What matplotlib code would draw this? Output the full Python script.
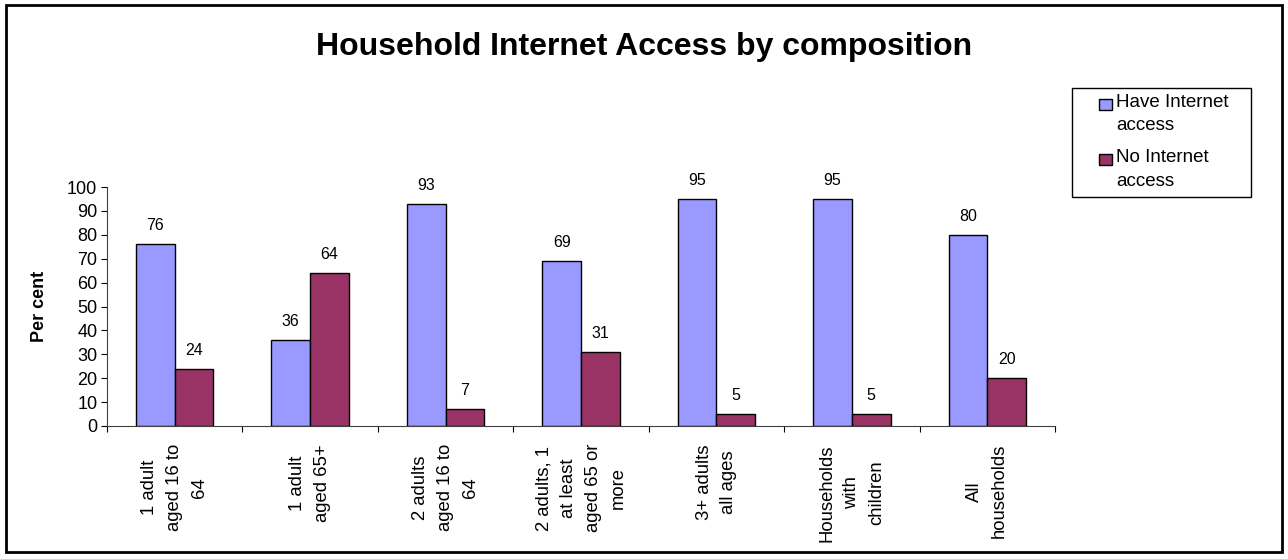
import numpy as np
import matplotlib
matplotlib.use("Agg")
import matplotlib.pyplot as plt
from matplotlib.patches import Rectangle

plt.rcParams['font.family'] = ['Liberation Sans', 'DejaVu Sans']

# Data
categories = ["1 adult\naged 16 to\n64", "1 adult\naged 65+", "2 adults\naged 16 to\n64",
              "2 adults, 1\nat least\naged 65 or\nmore", "3+ adults\nall ages",
              "Households\nwith\nchildren", "All\nhouseholds"]
have_access = [76, 36, 93, 69, 95, 95, 80]
no_access = [24, 64, 7, 31, 5, 5, 20]
series_names = ["Have Internet\naccess", "No Internet\naccess"]
series_colors = ['#9999FF', '#993366']
y_ticks = [0, 10, 20, 30, 40, 50, 60, 70, 80, 90, 100]

W, H = 1288, 559
fig = plt.figure(figsize=(W / 100, H / 100), dpi=100)
ax = fig.add_axes([107/W, 1 - 426/H, (1055 - 107)/W, (426 - 187)/H])

# outer chart border
fig.patches.append(Rectangle((6/W, 1 - 552/H), 1276/W, 547/H,
                             transform=fig.transFigure, fill=False,
                             edgecolor='black', linewidth=2))

x = np.arange(len(categories))
w = 1 / 3.5
b1 = ax.bar(x - w/2, have_access, w, color=series_colors[0], edgecolor='black', linewidth=1)
b2 = ax.bar(x + w/2, no_access, w, color=series_colors[1], edgecolor='black', linewidth=1)

for bars in (b1, b2):
    ax.bar_label(bars, padding=8, fontsize=11.5)

ax.set_xlim(-0.5, len(categories) - 0.5)
ax.set_ylim(0, 100)
ax.set_yticks(y_ticks)
ax.tick_params(axis='y', labelsize=13, length=4, direction='out', pad=3)
ax.set_xticks(np.arange(len(categories) + 1) - 0.5)
ax.set_xticklabels([])
ax.tick_params(axis='x', length=4, direction='out')
ax.set_xticks(x, minor=True)
ax.set_xticklabels(categories, minor=True, rotation=90, fontsize=13.3,
                   ha='center', va='top', multialignment='center', linespacing=1.6)
ax.tick_params(axis='x', which='minor', length=0, pad=13)

for s in ('top', 'right'):
    ax.spines[s].set_visible(False)
ax.spines['left'].set_color('#404040')
ax.spines['bottom'].set_color('#404040')

ax.set_ylabel("Per cent", fontsize=13, fontweight='bold', labelpad=14)

fig.suptitle("Household Internet Access by composition", fontsize=23,
             fontweight='bold', y=1 - 47/H, va='center')

# legend box drawn by hand so the markers sit on the first text line
fig.patches.append(Rectangle((1072/W, 1 - 197/H), (1251 - 1072)/W, (197 - 88)/H,
                             transform=fig.transFigure, facecolor='white',
                             edgecolor='black', linewidth=1))
for i, (name, col) in enumerate(zip(series_names, series_colors)):
    top = 94 + i * 55
    fig.patches.append(Rectangle((1099/W, 1 - (top + 16)/H), 13/W, 11/H,
                                 transform=fig.transFigure, facecolor=col,
                                 edgecolor='black', linewidth=1))
    fig.text(1116/W, 1 - top/H, name, fontsize=13.5, va='top', ha='left',
             linespacing=1.5)

fig.savefig("out.png", dpi=100)
